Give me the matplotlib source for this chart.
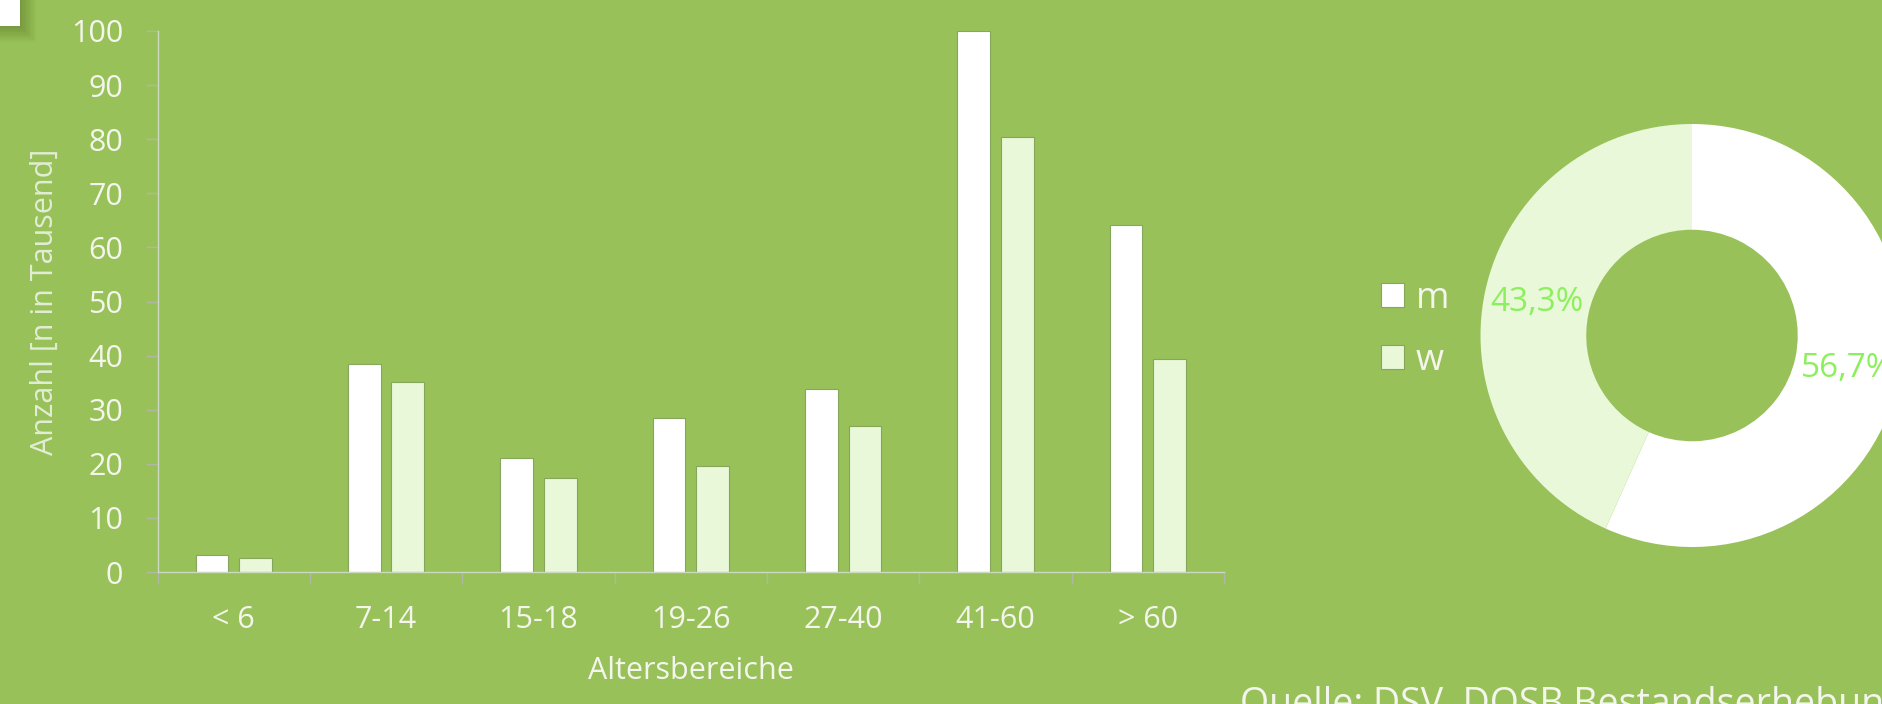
import matplotlib
matplotlib.use("Agg")
import matplotlib.pyplot as plt
import numpy as np
from matplotlib.patches import Rectangle

# ---- data ----
categories = ["< 6", "7-14", "15-18", "19-26", "27-40", "41-60", "> 60"]
m_values = [3.1, 38.4, 21.1, 28.5, 33.8, 100.0, 64.2]
w_values = [2.5, 35.2, 17.3, 19.6, 26.9, 80.4, 39.4]
series_labels = ["m", "w"]
share_values = [56.7, 43.3]
y_ticks = [0, 10, 20, 30, 40, 50, 60, 70, 80, 90, 100]

# ---- style ----
BG = "#99c159"
C_M = "#ffffff"
C_W = "#e8f8d8"
EDGE = "#86a65c"
TXT = "#f4f6ee"
PCT = "#8cf05c"
SPINE = "#cdd8c2"
TICK = "#aeb8a2"
FONT = ["Open Sans", "DejaVu Sans"]
plt.rcParams["font.family"] = FONT

W, H = 1882, 704
fig = plt.figure(figsize=(W / 100, H / 100), dpi=100, facecolor=BG)

def px_axes(l, t, r, b):
    return fig.add_axes([l / W, (H - b) / H, (r - l) / W, (b - t) / H])

# ---- bar chart ----
AL, AT, AR, AB = 157.5, 31, 1224, 572
ax = px_axes(AL, AT, AR, AB)
ax.set_facecolor("none")
x = np.arange(len(categories))
bw = 0.215
off = 0.143
bm = ax.bar(x - off, m_values, bw, color=C_M, edgecolor=EDGE, linewidth=0.8, label=series_labels[0])
bwb = ax.bar(x + off, w_values, bw, color=C_W, edgecolor=EDGE, linewidth=0.8, label=series_labels[1])
ax.set_xlim(-0.5, len(categories) - 0.5)
ax.set_ylim(0, 100)
for s in ["top", "right"]:
    ax.spines[s].set_visible(False)
for s in ["left", "bottom"]:
    ax.spines[s].set_color(SPINE)
    ax.spines[s].set_linewidth(1.0)
ax.set_yticks(y_ticks)
ax.tick_params(axis="y", direction="out", length=8.6, width=1.0, color=TICK,
               labelcolor=TXT, labelsize=22, pad=16)
ax.set_xticks(x)
ax.set_xticklabels(categories)
ax.set_xticks(np.arange(-0.5, len(categories)), minor=True)
ax.tick_params(axis="x", which="major", length=0, labelcolor=TXT, labelsize=22, pad=24)
ax.tick_params(axis="x", which="minor", direction="out", length=8.6, width=1.0, color=TICK)
ax.set_xlabel("Altersbereiche", color=TXT, fontsize=22)
ax.set_ylabel("Anzahl [n in Tausend]", color="#e2edd6", fontsize=22)
ax.yaxis.set_label_coords(-(AL - 60) / (AR - AL), 0.5)
ax.xaxis.set_label_coords((691 - AL) / (AR - AL), -(656 - AB) / (AB - AT))

# ---- legend ----
leg = fig.legend(handles=[bm, bwb], labels=series_labels, loc="center left",
                 bbox_to_anchor=(1381 / W, (H - 329.5) / H), frameon=False,
                 fontsize=26, labelcolor=TXT, handlelength=0.64, handleheight=0.64,
                 handletextpad=0.33, labelspacing=0.72, borderpad=0, borderaxespad=0)

# ---- donut ----
cx, cy, R = 1692, 335.5, 211.5
pax = px_axes(cx - R, cy - R, cx + R, cy + R)
pax.set_facecolor("none")
wedges, texts, autotexts = pax.pie(
    share_values, colors=[C_M, C_W], startangle=90, counterclock=False,
    radius=1.0, wedgeprops=dict(width=0.5, linewidth=0),
    autopct=lambda p: f"{p:.1f}%".replace(".", ","), pctdistance=0.75,
    textprops=dict(color=PCT, fontsize=24))
pax.set_xlim(-1, 1)
pax.set_ylim(-1, 1)
pax.set_aspect("auto")
pax.axis("off")
for t in autotexts:
    t.set_clip_on(False)

# ---- source text ----
fig.text(1240 / W, (H - 715) / H, "Quelle: DSV, DOSB Bestandserhebung 2014",
         color=TXT, fontsize=27, ha="left", va="baseline")

# ---- top-left white box with soft shadow ----
for i in range(10):
    d = 1.6 * (i + 1)
    fig.patches.append(Rectangle((0, (H - 26 - d) / H), (20 + d) / W, (26 + d) / H,
                                 transform=fig.transFigure, facecolor="#3a5010",
                                 alpha=0.035, edgecolor="none", figure=fig))
fig.patches.append(Rectangle((0, (H - 26) / H), 20 / W, 26 / H, transform=fig.transFigure,
                             facecolor="white", edgecolor="none", figure=fig))

fig.savefig("out.png", dpi=100, facecolor=BG)
